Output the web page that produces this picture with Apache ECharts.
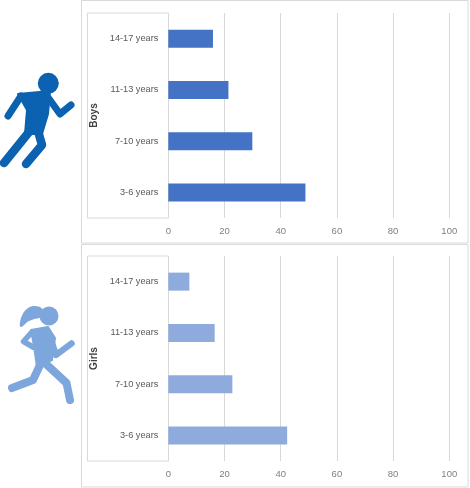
<!DOCTYPE html>
<html>
<head>
<meta charset="utf-8">
<script src="https://cdn.jsdelivr.net/npm/echarts@6/dist/echarts.min.js"></script>
<style>
  html, body { margin: 0; padding: 0; background: #fff; }
  #chart { width: 470px; height: 488px; }
</style>
</head>
<body>
<div id="chart"></div>
<script>
// data
var categories = ['3-6 years', '7-10 years', '11-13 years', '14-17 years'];
var boys = [48.8, 29.9, 21.4, 15.9];
var girls = [42.3, 22.8, 16.5, 7.5];
var ticks = [0, 20, 40, 60, 80, 100];

var font = "'Liberation Sans', Arial, sans-serif";
var grey = '#D9D9D9';
var boyBlue = '#0A62B0';
var girlBlue = '#7DA7DC';

var myChart = echarts.init(document.getElementById('chart'));

function valueAxis(idx) {
    return {
        type: 'value',
        gridIndex: idx,
        min: ticks[0],
        max: ticks[ticks.length - 1],
        interval: ticks[1] - ticks[0],
        axisLine: { show: false },
        axisTick: { show: false },
        splitLine: { show: true, lineStyle: { color: grey, width: 1 } },
        axisLabel: { color: '#7F7F7F', fontSize: 9.5, fontFamily: font, margin: 8 }
    };
}

function catAxis(idx, name) {
    return {
        type: 'category',
        gridIndex: idx,
        data: categories,
        axisLine: { show: false },
        axisTick: { show: false },
        axisLabel: { color: '#595959', fontSize: 9.2, fontFamily: font, margin: 10 },
        name: name,
        nameLocation: 'middle',
        nameRotate: 90,
        nameGap: 64,
        nameTextStyle: { color: '#404040', fontSize: 10, fontWeight: 'bold', fontFamily: font }
    };
}

// 运动小人
function runner(parts, color) {
    return parts.map(function (p) {
        if (p.c) {
            return { type: 'circle', shape: { cx: p.c[0], cy: p.c[1], r: p.c[2] }, style: { fill: color } };
        }
        if (p.poly) {
            return {
                type: 'polygon', shape: { points: p.poly, smooth: p.smooth || 0 },
                style: { fill: color, stroke: color, lineWidth: 2, lineJoin: 'round' }
            };
        }
        return {
            type: 'polyline', shape: { points: p.line },
            style: { stroke: color, lineWidth: p.w, lineCap: 'round', lineJoin: 'round', fill: null }
        };
    });
}

var boyParts = [
    { c: [48.3, 83.3, 10.5] },
    { poly: [[18, 94], [50, 91], [48, 114], [42, 134], [25, 134], [27, 110]] },
    { line: [[21, 96], [8, 116]], w: 7 },
    { line: [[47, 96], [60, 114], [71, 105]], w: 7 },
    { line: [[29, 132], [4, 163]], w: 8.5 },
    { line: [[38, 131], [42, 145], [26, 164]], w: 8.5 }
];
var girlParts = [
    { c: [49, 316, 9.5] },
    { poly: [[41, 309], [33, 307], [26, 311], [22, 318], [21, 326], [27, 321], [34, 318], [42, 316]], smooth: 0.3 },
    { poly: [[31, 330], [48, 327], [55, 338], [52, 360], [37, 367], [34, 346]] },
    { line: [[31, 333], [23.5, 341.5], [33, 347]], w: 5.5 },
    { line: [[50, 337], [56, 355], [71.5, 343.5]], w: 6.5 },
    { line: [[40, 365], [33, 380], [12, 388]], w: 8 },
    { line: [[46, 364], [66.5, 383], [70, 400]], w: 8 }
];

var graphics = [
    { type: 'rect', z: -1, shape: { x: 81.5, y: 0.5, width: 386.5, height: 242.5 }, style: { fill: null, stroke: grey, lineWidth: 1 } },
    { type: 'rect', z: -1, shape: { x: 81.5, y: 244.5, width: 386.5, height: 242.5 }, style: { fill: null, stroke: grey, lineWidth: 1 } },
    { type: 'rect', z: -1, shape: { x: 87.5, y: 13, width: 81, height: 205 }, style: { fill: null, stroke: grey, lineWidth: 1 } },
    { type: 'rect', z: -1, shape: { x: 87.5, y: 256, width: 81, height: 205 }, style: { fill: null, stroke: grey, lineWidth: 1 } }
].concat(runner(boyParts, boyBlue)).concat(runner(girlParts, girlBlue));

var option = {
    animation: false,
    grid: [
        { left: 168.3, right: 20.7, top: 13, height: 205 },
        { left: 168.3, right: 20.7, top: 256, height: 205 }
    ],
    xAxis: [valueAxis(0), valueAxis(1)],
    yAxis: [catAxis(0, 'Boys'), catAxis(1, 'Girls')],
    series: [
        {
            type: 'bar', xAxisIndex: 0, yAxisIndex: 0,
            barWidth: 18,
            itemStyle: { color: '#4472C4' },
            data: boys
        },
        {
            type: 'bar', xAxisIndex: 1, yAxisIndex: 1,
            barWidth: 18,
            itemStyle: { color: '#8FAADC' },
            data: girls
        }
    ],
    graphic: graphics
};
myChart.setOption(option);
</script>
</body>
</html>
